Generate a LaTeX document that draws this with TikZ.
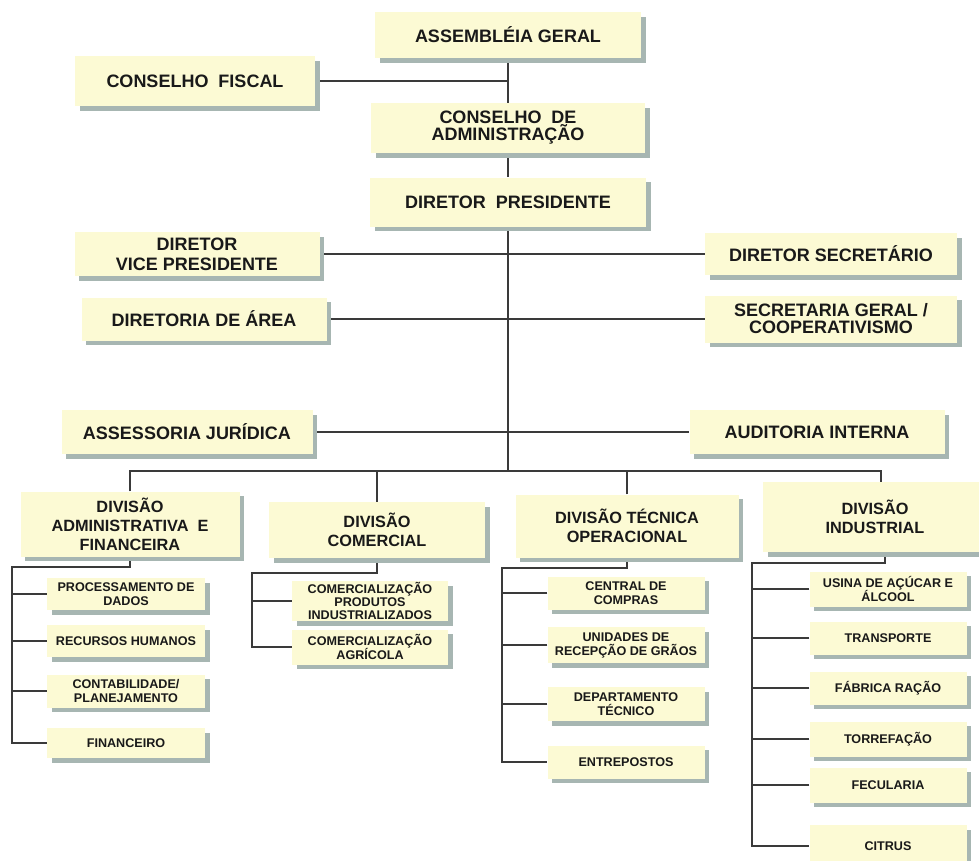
\documentclass[tikz,border=0pt]{standalone}
\usepackage{fontspec}
\setmainfont{Liberation Sans}
\usetikzlibrary{shadows,backgrounds}
\definecolor{boxfill}{HTML}{FCFAD4}
\definecolor{shadowc}{HTML}{A7B6B2}
\definecolor{linec}{HTML}{3A3A3A}
\tikzset{
  orgbox/.style={fill=boxfill, inner sep=0pt, align=center, text=black!90,
    drop shadow={shadow xshift=4.5pt, shadow yshift=-4.5pt, fill=shadowc, opacity=1}},
  topbox/.style={orgbox, font=\fontsize{18}{17}\selectfont\bfseries},
  divbox/.style={orgbox, font=\fontsize{16.3}{19}\selectfont\bfseries},
  subbox/.style={orgbox, font=\fontsize{12.6}{14}\selectfont\bfseries},
  link/.style={draw=linec, line width=1.1pt},
}
\begin{document}
\begin{tikzpicture}[x=1pt, y=-1pt]
\useasboundingbox (0,0) rectangle (979,860);
\clip (0,0) rectangle (979,860);

% --- governing bodies
\node[topbox, minimum width=266, minimum height=46] (ag)  at (508,35)  {ASSEMBLÉIA GERAL};
\node[topbox, minimum width=240, minimum height=50] (cf)  at (195,81)  {CONSELHO\ \ FISCAL};
\node[topbox, minimum width=274, minimum height=50] (cda) at (508,128) {CONSELHO\ \ DE\\ADMINISTRAÇÃO};
\node[topbox, minimum width=276, minimum height=49] (dp)  at (508,202) {DIRETOR\ \ PRESIDENTE};

% --- staff positions
\node[topbox, minimum width=245, minimum height=44, font=\fontsize{18}{20}\selectfont\bfseries] (vp) at (197,254) {DIRETOR\\VICE PRESIDENTE};
\node[topbox, minimum width=252, minimum height=42] (ds)  at (831,254) {DIRETOR SECRETÁRIO};
\node[topbox, minimum width=245, minimum height=43] (dar) at (204,319) {DIRETORIA DE ÁREA};
\node[topbox, minimum width=252, minimum height=47] (sg)  at (831,319) {SECRETARIA GERAL /\\COOPERATIVISMO};
\node[topbox, minimum width=251, minimum height=44] (aj)  at (187,432) {ASSESSORIA JURÍDICA};
\node[topbox, minimum width=255, minimum height=44] (ai)  at (817,432) {AUDITORIA INTERNA};

% --- divisions
\node[divbox, minimum width=219, minimum height=65] (dadm) at (130,524) {DIVISÃO\\ADMINISTRATIVA\ \ E\\FINANCEIRA};
\node[divbox, minimum width=216, minimum height=56] (dcom) at (377,530) {DIVISÃO\\COMERCIAL};
\node[divbox, minimum width=223, minimum height=63] (dtec) at (627,526) {DIVISÃO TÉCNICA\\OPERACIONAL};
\node[divbox, minimum width=224, minimum height=70] (dind) at (875,517) {DIVISÃO\\INDUSTRIAL};

% --- administrative and financial units
\node[subbox, minimum width=158, minimum height=32] (pd)  at (126,594) {PROCESSAMENTO DE\\DADOS};
\node[subbox, minimum width=158, minimum height=32] (rh)  at (126,641) {RECURSOS HUMANOS};
\node[subbox, minimum width=158, minimum height=33] (cpl) at (126,691) {CONTABILIDADE/\\PLANEJAMENTO};
\node[subbox, minimum width=158, minimum height=30] (fin) at (126,743) {FINANCEIRO};

% --- commercial units
\node[subbox, minimum width=156, minimum height=40, font=\fontsize{12.6}{13}\selectfont\bfseries] (cpi) at (370,601) {COMERCIALIZAÇÃO\\PRODUTOS\\INDUSTRIALIZADOS};
\node[subbox, minimum width=156, minimum height=35] (cag) at (370,647) {COMERCIALIZAÇÃO\\AGRÍCOLA};

% --- technical and operational units
\node[subbox, minimum width=157, minimum height=33] (cc)  at (626,593) {CENTRAL DE\\COMPRAS};
\node[subbox, minimum width=157, minimum height=36] (ur)  at (626,645) {UNIDADES DE\\RECEPÇÃO DE GRÃOS};
\node[subbox, minimum width=157, minimum height=34] (dte) at (626,704) {DEPARTAMENTO\\TÉCNICO};
\node[subbox, minimum width=157, minimum height=33] (ent) at (626,762) {ENTREPOSTOS};

% --- industrial units
\node[subbox, minimum width=157, minimum height=35] (usa) at (888,589) {USINA DE AÇÚCAR E\\ÁLCOOL};
\node[subbox, minimum width=157, minimum height=33] (tra) at (888,638) {TRANSPORTE};
\node[subbox, minimum width=157, minimum height=33] (fra) at (888,688) {FÁBRICA RAÇÃO};
\node[subbox, minimum width=157, minimum height=35] (tor) at (888,739) {TORREFAÇÃO};
\node[subbox, minimum width=157, minimum height=35] (fec) at (888,785) {FECULARIA};
\node[subbox, minimum width=157, minimum height=42] (cit) at (888,846) {CITRUS};

% --- junction points
\coordinate (bar) at (508,471);
\coordinate (ja) at (12,567);
\coordinate (jc) at (252,573);
\coordinate (jt) at (502,568);
\coordinate (ji) at (752,563);

\begin{pgfonlayer}{background}
  % main trunk
  \draw[link] (ag.south) -- (cda.north);
  \draw[link] (cda.south) -- (dp.north);
  \draw[link] (dp.south) -- (bar);
  \draw[link] (cf.east) -- (cf.east -| ag.south);
  \draw[link] (vp.east) -- (ds.west);
  \draw[link] (dar.east) -- (sg.west);
  \draw[link] (aj.east) -- (ai.west);
  % division bar and drops
  \draw[link] (dadm.north) |- (bar) -| ([xshift=6pt]dind.north);
  \draw[link] (dcom.north) -- (dcom.north |- bar);
  \draw[link] (dtec.north) -- (dtec.north |- bar);
  % unit brackets
  \draw[link] (dadm.south) |- (ja) |- (fin.west);
  \foreach \n in {pd,rh,cpl} \draw[link] (\n.west) -- (\n.west -| ja);
  \draw[link] (dcom.south) |- (jc) |- (cag.west);
  \draw[link] (cpi.west) -- (cpi.west -| jc);
  \draw[link] (dtec.south) |- (jt) |- (ent.west);
  \foreach \n in {cc,ur,dte} \draw[link] (\n.west) -- (\n.west -| jt);
  \draw[link] ([xshift=10pt]dind.south) |- (ji) |- (cit.west);
  \foreach \n in {usa,tra,fra,tor,fec} \draw[link] (\n.west) -- (\n.west -| ji);
\end{pgfonlayer}
\end{tikzpicture}
\end{document}
